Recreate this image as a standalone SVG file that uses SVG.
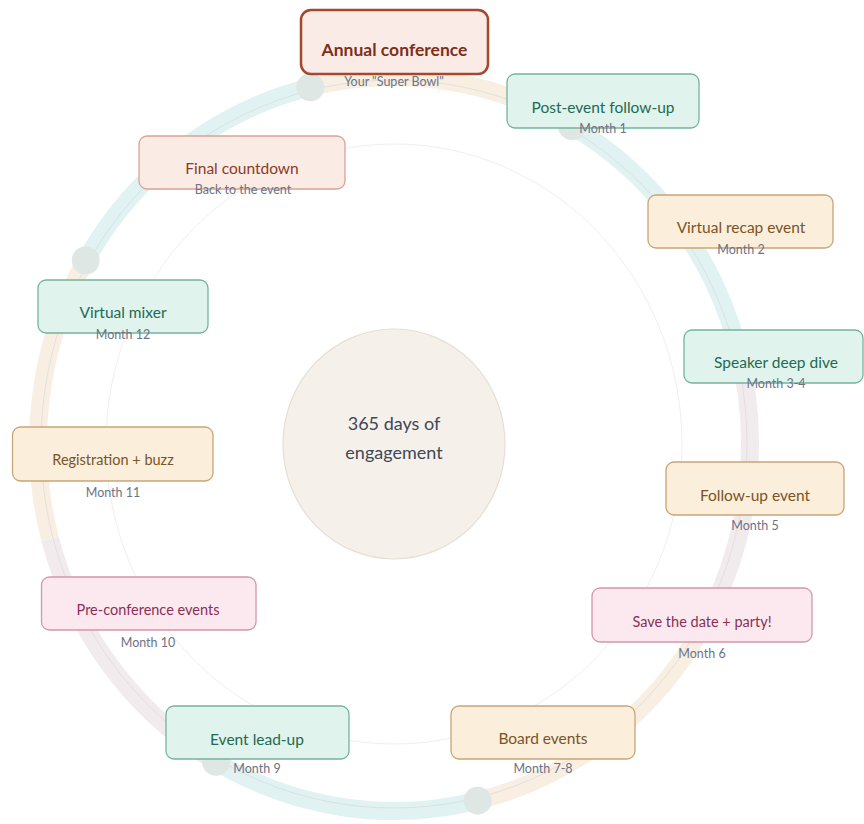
<svg xmlns="http://www.w3.org/2000/svg" width="864" height="824" viewBox="0 0 864 824">
<style>
  text { font-family: Lato, "Liberation Sans", sans-serif; text-anchor: middle; }
  .seg { fill: none; stroke-width: 18; }
  .beige { stroke: #f8efe2; }
  .teal { stroke: #e1f2f2; }
  .mauve { stroke: #f2ebee; }
  .dot { fill: #dfe7e4; }
  .box { stroke-width: 1.3; }
  .bx-teal { fill: #e0f3ec; stroke: #74b49c; }
  .bx-sand { fill: #fbeedb; stroke: #c9a577; }
  .bx-pink { fill: #fbe9ef; stroke: #d496ab; }
  .bx-peach { fill: #fbebe5; stroke: #d9a393; }
  .t { font-size: 15.5px; }
  .ts { font-size: 14.5px; }
  .c-teal { fill: #1f6a53; }
  .c-sand { fill: #7a5426; }
  .c-pink { fill: #8a3054; }
  .c-peach { fill: #8c3a28; }
  .sub { font-size: 12.5px; fill: #6b7385; }
</style>
<rect width="864" height="824" fill="#ffffff"/>
<g id="ring">
  <ellipse cx="394" cy="444" rx="288" ry="300" fill="none" stroke="#efefef" stroke-width="1"/>
  <path class="seg beige" d="M310.3 87.3 A356 367 0 0 1 572 126.2"/>
  <path class="seg teal" d="M572 126.2 A356 367 0 0 1 737.9 349"/>
  <path class="seg mauve" d="M737.9 349 A356 367 0 0 1 702.3 627.5"/>
  <path class="seg beige" d="M702.3 627.5 A356 367 0 0 1 477.7 800.7"/>
  <path class="seg teal" d="M477.7 800.7 A356 367 0 0 1 216 761.8"/>
  <path class="seg mauve" d="M216 761.8 A356 367 0 0 1 50.1 539"/>
  <path class="seg beige" d="M50.1 539 A356 367 0 0 1 85.7 260.5"/>
  <path class="seg teal" d="M85.7 260.5 A356 367 0 0 1 310.3 87.3"/>
  <ellipse cx="394" cy="444" rx="353" ry="364" fill="none" stroke="#d6d6d6" stroke-opacity="0.6" stroke-width="1"/>
  <circle class="dot" cx="310.3" cy="87.3" r="14"/>
  <circle class="dot" cx="572" cy="126.2" r="14"/>
  <circle class="dot" cx="737.9" cy="349" r="14"/>
  <circle class="dot" cx="702.3" cy="627.5" r="14"/>
  <circle class="dot" cx="477.7" cy="800.7" r="14"/>
  <circle class="dot" cx="216" cy="761.8" r="14"/>
  <circle class="dot" cx="85.7" cy="260.5" r="14"/>
</g>
<g id="center">
  <ellipse cx="394" cy="444" rx="111" ry="115" fill="#f5f1ea" stroke="#e6dfd3" stroke-width="1.2"/>
  <text x="394" y="430" style="font-size:18px;fill:#3f4757">365 days of</text>
  <text x="394" y="459" style="font-size:18px;fill:#3f4757">engagement</text>
</g>
<g id="annual-conference">
  <rect x="301" y="10" width="187" height="64" rx="10" fill="#fbebe6" stroke="#a3472d" stroke-width="2.5"/>
  <text x="394.5" y="56" style="font-size:17.5px;font-weight:bold;fill:#7d2f1c">Annual conference</text>
  <text class="sub" x="394" y="86">Your "Super Bowl"</text>
</g>
<g id="post-event">
  <rect class="box bx-teal" x="507" y="74" width="192" height="54" rx="8"/>
  <text class="t c-teal" x="603" y="113">Post-event follow-up</text>
  <text class="sub" x="603" y="133">Month 1</text>
</g>
<g id="final-countdown">
  <rect class="box bx-peach" x="139" y="136" width="206" height="53" rx="8"/>
  <text class="t c-peach" x="242" y="174">Final countdown</text>
  <text class="sub" x="243" y="194">Back to the event</text>
</g>
<g id="virtual-mixer">
  <rect class="box bx-teal" x="38" y="280" width="170" height="53" rx="8"/>
  <text class="t c-teal" x="123" y="318">Virtual mixer</text>
  <text class="sub" x="123" y="339">Month 12</text>
</g>
<g id="virtual-recap">
  <rect class="box bx-sand" x="648" y="195" width="185" height="53" rx="8"/>
  <text class="t c-sand" x="741" y="233">Virtual recap event</text>
  <text class="sub" x="741" y="254">Month 2</text>
</g>
<g id="speaker-deep-dive">
  <rect class="box bx-teal" x="684" y="330" width="179" height="53" rx="8"/>
  <text class="t c-teal" x="776" y="368">Speaker deep dive</text>
  <text class="sub" x="776" y="388">Month 3-4</text>
</g>
<g id="registration">
  <rect class="box bx-sand" x="12.5" y="427" width="200.5" height="54" rx="8"/>
  <text class="ts c-sand" x="113" y="465">Registration + buzz</text>
  <text class="sub" x="113" y="497">Month 11</text>
</g>
<g id="follow-up-event">
  <rect class="box bx-sand" x="666" y="462" width="178" height="53" rx="8"/>
  <text class="t c-sand" x="755" y="501">Follow-up event</text>
  <text class="sub" x="755" y="530">Month 5</text>
</g>
<g id="save-the-date">
  <rect class="box bx-pink" x="592" y="588" width="220" height="54" rx="8"/>
  <text class="ts c-pink" x="702" y="627">Save the date + party!</text>
  <text class="sub" x="702" y="658">Month 6</text>
</g>
<g id="pre-conference">
  <rect class="box bx-pink" x="41.5" y="577" width="214.5" height="53" rx="8"/>
  <text class="ts c-pink" x="148" y="615">Pre-conference events</text>
  <text class="sub" x="148" y="647">Month 10</text>
</g>
<g id="event-lead-up">
  <rect class="box bx-teal" x="166" y="706" width="183" height="53" rx="8"/>
  <text class="t c-teal" x="257" y="745">Event lead-up</text>
  <text class="sub" x="257" y="773">Month 9</text>
</g>
<g id="board-events">
  <rect class="box bx-sand" x="451" y="706" width="184" height="53" rx="8"/>
  <text class="t c-sand" x="543" y="744">Board events</text>
  <text class="sub" x="543" y="773">Month 7-8</text>
</g>
</svg>
